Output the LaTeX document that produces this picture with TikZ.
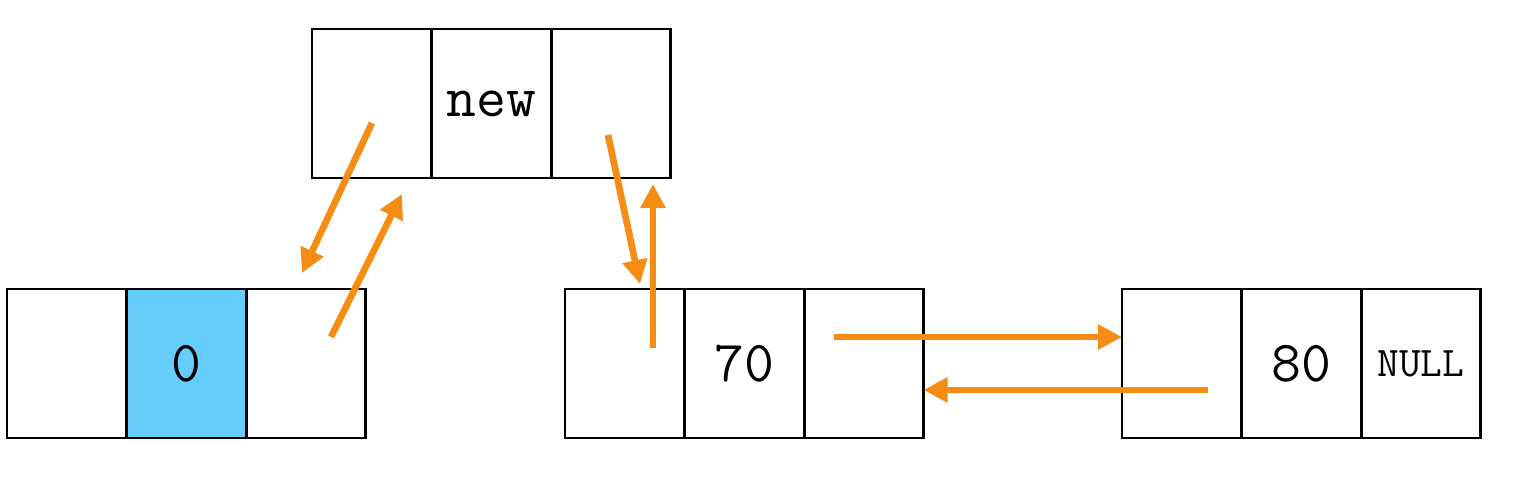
\documentclass[tikz,border=0pt]{standalone}
\usetikzlibrary{arrows.meta}
\definecolor{arr}{HTML}{F58C14}
\definecolor{cellblue}{HTML}{66CCF9}
\tikzset{
  cell/.style={draw=black, line width=0.75pt, minimum width=1.195cm, minimum height=1.49cm, inner sep=0pt, outer sep=0pt, anchor=north west, font=\ttfamily\fontsize{16.5}{19}\selectfont},
  ptr/.style={draw=arr, line width=1.9pt, -{Triangle[length=0.24cm,width=0.24cm]}}
}
\begin{document}
\begin{tikzpicture}[x=0.01cm,y=-0.01cm]
\useasboundingbox (0,0) rectangle (1524,495);
% top node
\node[cell] (t1) at (312,29) {};
\node[cell] (t2) at (432,29) {new};
\node[cell] (t3) at (551,29) {};
% left node
\node[cell] (l1) at (7,289) {};
\node[cell, fill=cellblue] (l2) at (127,289) {0};
\node[cell] (l3) at (246,289) {};
% middle node
\node[cell] (m1) at (565,289) {};
\node[cell] (m2) at (685,289) {70};
\node[cell] (m3) at (804,289) {};
% right node
\node[cell] (r1) at (1122,289) {};
\node[cell] (r2) at (1242,289) {80};
\node[cell, font=\ttfamily\fontsize{12}{14}\selectfont] (r3) at (1361,289) {NULL};
% pointer ends
\coordinate (a1s) at (372,123);
\coordinate (a1e) at (302,273);
\coordinate (a2s) at (331,337);
\coordinate (a2e) at (402,194);
\coordinate (a3s) at (608,135);
\coordinate (a3e) at (640,284);
\coordinate (a4s) at (653,348);
\coordinate (a4e) at (653,184);
\coordinate (a5s) at (834,337);
\coordinate (a5e) at (r1.west |- a5s);
\coordinate (a6s) at (1208,390);
\coordinate (a6e) at (m3.east |- a6s);
\draw[ptr] (a1s) -- (a1e);
\draw[ptr] (a2s) -- (a2e);
\draw[ptr] (a3s) -- (a3e);
\draw[ptr] (a4s) -- (a4e);
\draw[ptr] (a5s) -- (a5e);
\draw[ptr] (a6s) -- (a6e);
\end{tikzpicture}
\end{document}
